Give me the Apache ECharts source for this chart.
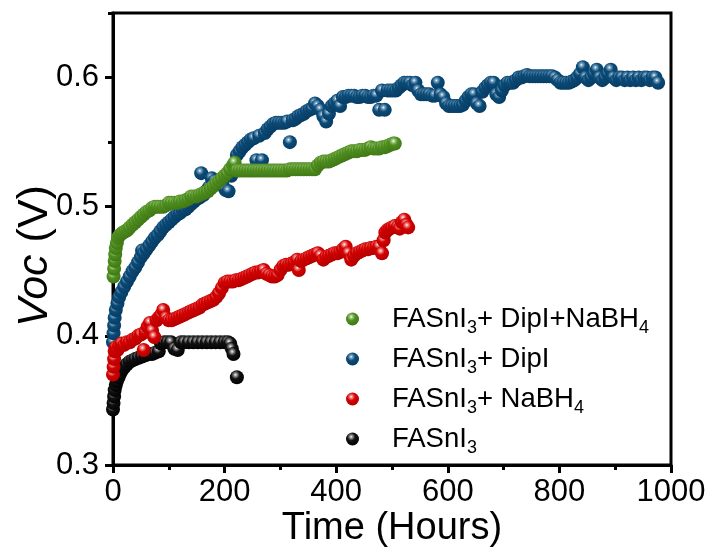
<!DOCTYPE html>
<html>
<head>
<meta charset="utf-8">
<title>Voc stability</title>
<script src="https://cdn.jsdelivr.net/npm/echarts@6/dist/echarts.min.js"></script>
<style>
  html, body { margin: 0; padding: 0; background: #fff; }
  #chart { width: 707px; height: 556px; }
</style>
</head>
<body>
<div id="chart"></div>
<script>
// Open-circuit voltage (V) versus ageing time (hours), one [t, Voc] pair per measurement.

const seriesNames = [
  'FASnI3+ DipI+NaBH4',
  'FASnI3+ DipI',
  'FASnI3+ NaBH4',
  'FASnI3'
];

const greenData = [
  [1,0.446],[2,0.452],[3,0.458],[4,0.463],[5,0.468],[7,0.472],[9,0.476],[12,0.478],[15,0.479],[18,0.480],
  [22,0.481],[26,0.482],[30,0.484],[35,0.486],[40,0.488],[45,0.490],[50,0.492],[55,0.494],[60,0.496],[65,0.497],
  [70,0.499],[75,0.500],[80,0.500],[85,0.500],[90,0.500],[95,0.501],[100,0.503],[105,0.503],[110,0.503],[115,0.503],
  [120,0.504],[125,0.504],[130,0.505],[135,0.506],[140,0.508],[145,0.508],[150,0.508],[155,0.509],[160,0.510],[165,0.511],
  [170,0.512],[175,0.514],[180,0.516],[185,0.518],[190,0.520],[195,0.522],[200,0.524],[205,0.526],[210,0.529],[215,0.532],
  [218,0.534],[222,0.528],[227,0.528],[232,0.528],[237,0.528],[242,0.528],[247,0.528],[252,0.528],[257,0.528],[262,0.528],
  [267,0.528],[272,0.528],[277,0.528],[282,0.528],[287,0.528],[292,0.528],[297,0.528],[302,0.528],[307,0.528],[312,0.528],
  [317,0.529],[322,0.529],[327,0.529],[332,0.529],[337,0.529],[342,0.529],[347,0.529],[352,0.529],[357,0.529],[362,0.529],
  [367,0.532],[372,0.534],[377,0.535],[382,0.535],[387,0.535],[392,0.536],[397,0.537],[402,0.538],[407,0.539],[412,0.540],
  [417,0.541],[422,0.542],[427,0.543],[432,0.543],[437,0.543],[442,0.544],[447,0.544],[452,0.544],[457,0.545],[462,0.546],
  [467,0.545],[472,0.545],[477,0.545],[482,0.546],[487,0.546],[492,0.547],[497,0.548],[502,0.549],[505,0.549]
];

const blueData = [
  [0,0.395],[1,0.402],[2,0.408],[3,0.414],[5,0.420],[8,0.425],[11,0.430],[15,0.434],[20,0.438],[25,0.442],
  [30,0.446],[35,0.450],[40,0.453],[45,0.457],[50,0.461],[52,0.466],[55,0.464],[60,0.467],[65,0.470],[70,0.473],
  [75,0.476],[80,0.478],[85,0.481],[90,0.484],[95,0.486],[100,0.488],[105,0.490],[110,0.492],[115,0.494],[120,0.495],
  [125,0.497],[130,0.498],[135,0.500],[140,0.502],[145,0.504],[150,0.506],[155,0.507],[158,0.526],[162,0.509],[167,0.512],
  [172,0.515],[177,0.522],[182,0.520],[187,0.518],[192,0.520],[197,0.516],[202,0.513],[207,0.512],[212,0.524],[217,0.532],
  [222,0.540],[227,0.543],[232,0.546],[237,0.548],[242,0.550],[247,0.552],[252,0.553],[257,0.536],[262,0.555],[267,0.536],
  [272,0.557],[277,0.560],[282,0.562],[287,0.564],[292,0.565],[297,0.565],[302,0.565],[307,0.565],[312,0.566],[317,0.550],
  [322,0.567],[327,0.568],[332,0.570],[337,0.571],[342,0.572],[347,0.574],[352,0.575],[357,0.576],[362,0.580],[367,0.578],
  [372,0.575],[377,0.570],[382,0.566],[387,0.572],[392,0.578],[397,0.580],[402,0.582],[407,0.578],[412,0.585],[417,0.585],
  [422,0.586],[427,0.586],[432,0.586],[437,0.585],[442,0.585],[447,0.586],[452,0.586],[457,0.585],[462,0.585],[467,0.586],
  [472,0.586],[477,0.575],[482,0.590],[487,0.575],[492,0.590],[497,0.590],[502,0.590],[507,0.590],[512,0.592],[517,0.594],
  [522,0.596],[527,0.596],[532,0.596],[537,0.594],[542,0.596],[547,0.590],[552,0.587],[557,0.587],[562,0.587],[567,0.587],
  [572,0.586],[577,0.586],[582,0.596],[587,0.587],[592,0.585],[597,0.580],[602,0.578],[607,0.578],[612,0.578],[617,0.578],
  [622,0.578],[627,0.579],[632,0.582],[637,0.585],[642,0.587],[647,0.587],[652,0.580],[657,0.578],[662,0.589],[667,0.592],
  [672,0.594],[677,0.596],[682,0.596],[687,0.587],[692,0.585],[697,0.590],[702,0.594],[707,0.596],[712,0.596],[717,0.596],
  [722,0.598],[727,0.600],[732,0.600],[737,0.601],[742,0.602],[747,0.601],[752,0.601],[757,0.601],[762,0.601],[767,0.601],
  [772,0.601],[777,0.601],[782,0.601],[787,0.601],[792,0.600],[797,0.598],[802,0.596],[807,0.596],[812,0.596],[817,0.596],
  [822,0.597],[827,0.598],[832,0.600],[837,0.603],[842,0.608],[847,0.600],[852,0.598],[857,0.600],[862,0.603],[867,0.606],
  [872,0.600],[877,0.598],[882,0.600],[887,0.603],[892,0.606],[897,0.600],[902,0.598],[907,0.600],[912,0.600],[917,0.598],
  [922,0.600],[927,0.598],[932,0.600],[937,0.598],[942,0.600],[947,0.598],[952,0.600],[957,0.600],[962,0.598],[967,0.600],
  [972,0.600],[977,0.596]
];

const redData = [
  [0,0.370],[1,0.376],[2,0.382],[3,0.388],[5,0.391],[8,0.389],[11,0.392],[15,0.394],[20,0.393],[25,0.395],
  [30,0.395],[35,0.397],[40,0.398],[45,0.400],[50,0.401],[55,0.389],[58,0.403],[62,0.407],[66,0.410],[70,0.404],
  [74,0.399],[78,0.412],[82,0.414],[86,0.416],[90,0.420],[95,0.414],[100,0.412],[105,0.412],[110,0.413],[115,0.414],
  [120,0.415],[125,0.416],[130,0.417],[135,0.418],[140,0.419],[145,0.420],[150,0.421],[155,0.422],[160,0.424],[165,0.425],
  [170,0.426],[175,0.427],[180,0.428],[185,0.430],[190,0.433],[195,0.437],[200,0.441],[205,0.442],[210,0.442],[215,0.442],
  [220,0.443],[225,0.443],[230,0.444],[235,0.445],[240,0.446],[245,0.447],[250,0.448],[255,0.449],[260,0.449],[265,0.450],
  [270,0.451],[275,0.448],[280,0.447],[285,0.446],[290,0.446],[295,0.447],[300,0.451],[305,0.454],[310,0.455],[315,0.455],
  [320,0.456],[325,0.457],[330,0.459],[333,0.451],[337,0.458],[342,0.459],[347,0.460],[352,0.461],[357,0.462],[362,0.463],
  [367,0.464],[372,0.462],[377,0.459],[382,0.461],[387,0.462],[392,0.463],[397,0.464],[402,0.464],[407,0.465],[412,0.467],
  [417,0.469],[422,0.464],[427,0.459],[432,0.462],[437,0.464],[442,0.465],[447,0.466],[452,0.467],[457,0.467],[462,0.468],
  [467,0.468],[472,0.469],[477,0.469],[482,0.464],[485,0.474],[488,0.480],[492,0.482],[496,0.483],[500,0.484],[505,0.485],
  [510,0.484],[514,0.483],[518,0.488],[522,0.490],[526,0.486],[529,0.484]
];

const blackData = [
  [0,0.343],[1,0.348],[2,0.353],[3,0.358],[5,0.362],[7,0.365],[10,0.368],[13,0.371],[17,0.374],[21,0.376],
  [25,0.378],[30,0.380],[35,0.381],[40,0.382],[46,0.383],[52,0.384],[58,0.385],[64,0.386],[70,0.386],[76,0.387],
  [82,0.388],[86,0.394],[92,0.395],[98,0.395],[104,0.395],[110,0.390],[116,0.389],[122,0.395],[128,0.395],[136,0.395],
  [144,0.395],[152,0.395],[160,0.395],[168,0.395],[176,0.395],[184,0.395],[192,0.395],[200,0.395],[206,0.395],[210,0.394],
  [213,0.390],[216,0.386],[222,0.368]
];

const xTicks = [0, 200, 400, 600, 800, 1000];
const yTicks = [0.3, 0.4, 0.5, 0.6];

// Glossy ball fill: white highlight toward the upper left, fading into the base colour.
function ball(light, base, dark) {
  return {
    type: 'radial', x: 0.4, y: 0.33, r: 0.72,
    colorStops: [
      { offset: 0, color: '#ffffff' },
      { offset: 0.14, color: light },
      { offset: 0.42, color: base },
      { offset: 1, color: dark }
    ]
  };
}

const fills = {
  green: ball('#a9cf8c', '#4f8f1f', '#3d7414'),
  blue: ball('#7fa6c4', '#0b4b78', '#063a60'),
  red: ball('#f08c8c', '#d40000', '#b00000'),
  black: ball('#9a9a9a', '#111111', '#000000')
};

// Legend labels with chemical subscripts
const legendLabels = {
  'FASnI3+ DipI+NaBH4': 'FASnI{s|3}+ DipI+NaBH{s|4}',
  'FASnI3+ DipI': 'FASnI{s|3}+ DipI',
  'FASnI3+ NaBH4': 'FASnI{s|3}+ NaBH{s|4}',
  'FASnI3': 'FASnI{s|3}'
};

const FONT = '"Liberation Sans", Arial, Helvetica, sans-serif';

function scatter(name, data, fill) {
  return {
    name: name,
    type: 'scatter',
    data: data,
    symbol: 'circle',
    symbolSize: 14,
    itemStyle: { color: fill, opacity: 1 },
    emphasis: { disabled: true }
  };
}

const chart = echarts.init(document.getElementById('chart'), null, { renderer: 'canvas' });

chart.setOption({
  animation: false,
  backgroundColor: '#ffffff',
  grid: {
    left: 113, right: 36, top: 13, bottom: 91,
    outerBoundsMode: 'none',
    containLabel: false,
    show: true, borderColor: '#000', borderWidth: 3, backgroundColor: 'transparent'
  },
  legend: {
    orient: 'vertical',
    left: 341,
    top: 296,
    itemWidth: 13,
    itemHeight: 13,
    itemGap: 4,
    icon: 'circle',
    data: seriesNames,
    formatter: function (name) { return '{g| }' + legendLabels[name]; },
    textStyle: {
      fontFamily: FONT,
      fontSize: 27.5,
      lineHeight: 36,
      color: '#000',
      rich: {
        g: { width: 28, fontSize: 27, lineHeight: 36 },
        s: { fontSize: 18, lineHeight: 17, verticalAlign: 'bottom', fontFamily: FONT, color: '#000' }
      }
    }
  },
  xAxis: [{
    type: 'value',
    min: 0,
    max: 1000,
    interval: 200,
    name: 'Time (Hours)',
    nameLocation: 'middle',
    nameGap: 45,
    nameMoveOverlap: false,
    nameTextStyle: { fontFamily: FONT, fontSize: 38, color: '#000' },
    axisLine: { show: true, onZero: false, lineStyle: { color: '#000', width: 3 } },
    axisTick: { show: true, inside: false, length: 8, lineStyle: { color: '#000', width: 3 } },
    minorTick: { show: true, splitNumber: 2, length: 5, lineStyle: { color: '#000', width: 3 } },
    axisLabel: {
      fontFamily: FONT, fontSize: 31, color: '#000', margin: 12,
      formatter: function (v) { return xTicks.indexOf(v) >= 0 ? String(v) : ''; }
    },
    splitLine: { show: false },
    minorSplitLine: { show: false }
  }],
  yAxis: [{
    type: 'value',
    min: 0.3,
    max: 0.65,
    interval: 0.1,
    name: '{i|Voc} (V)',
    nameLocation: 'middle',
    nameGap: 56,
    nameMoveOverlap: false,
    nameRotate: 90,
    nameTextStyle: {
      fontFamily: FONT, fontSize: 43, color: '#000',
      padding: [0, 34, 0, 0],
      rich: { i: { fontFamily: FONT, fontSize: 43, fontStyle: 'italic', color: '#000' } }
    },
    axisLine: { show: true, onZero: false, lineStyle: { color: '#000', width: 3 } },
    axisTick: { show: true, inside: false, length: 8, lineStyle: { color: '#000', width: 3 } },
    axisLabel: {
      fontFamily: FONT, fontSize: 31, color: '#000', margin: 14,
      showMaxLabel: false,
      formatter: function (v) {
        const r = Math.round(v * 100) / 100;
        return yTicks.indexOf(r) >= 0 ? r.toFixed(1) : '';
      }
    },
    splitLine: { show: false }
  }, {
    // short ticks at the half steps
    type: 'value',
    position: 'left',
    min: 0.3,
    max: 0.65,
    interval: 0.05,
    axisLine: { show: false },
    axisTick: { show: true, inside: false, length: 5, lineStyle: { color: '#000', width: 3 } },
    axisLabel: { show: false },
    splitLine: { show: false }
  }],
  series: [
    scatter(seriesNames[3], blackData, fills.black),
    scatter(seriesNames[1], blueData, fills.blue),
    scatter(seriesNames[2], redData, fills.red),
    scatter(seriesNames[0], greenData, fills.green)
  ]
});
</script>
</body>
</html>
